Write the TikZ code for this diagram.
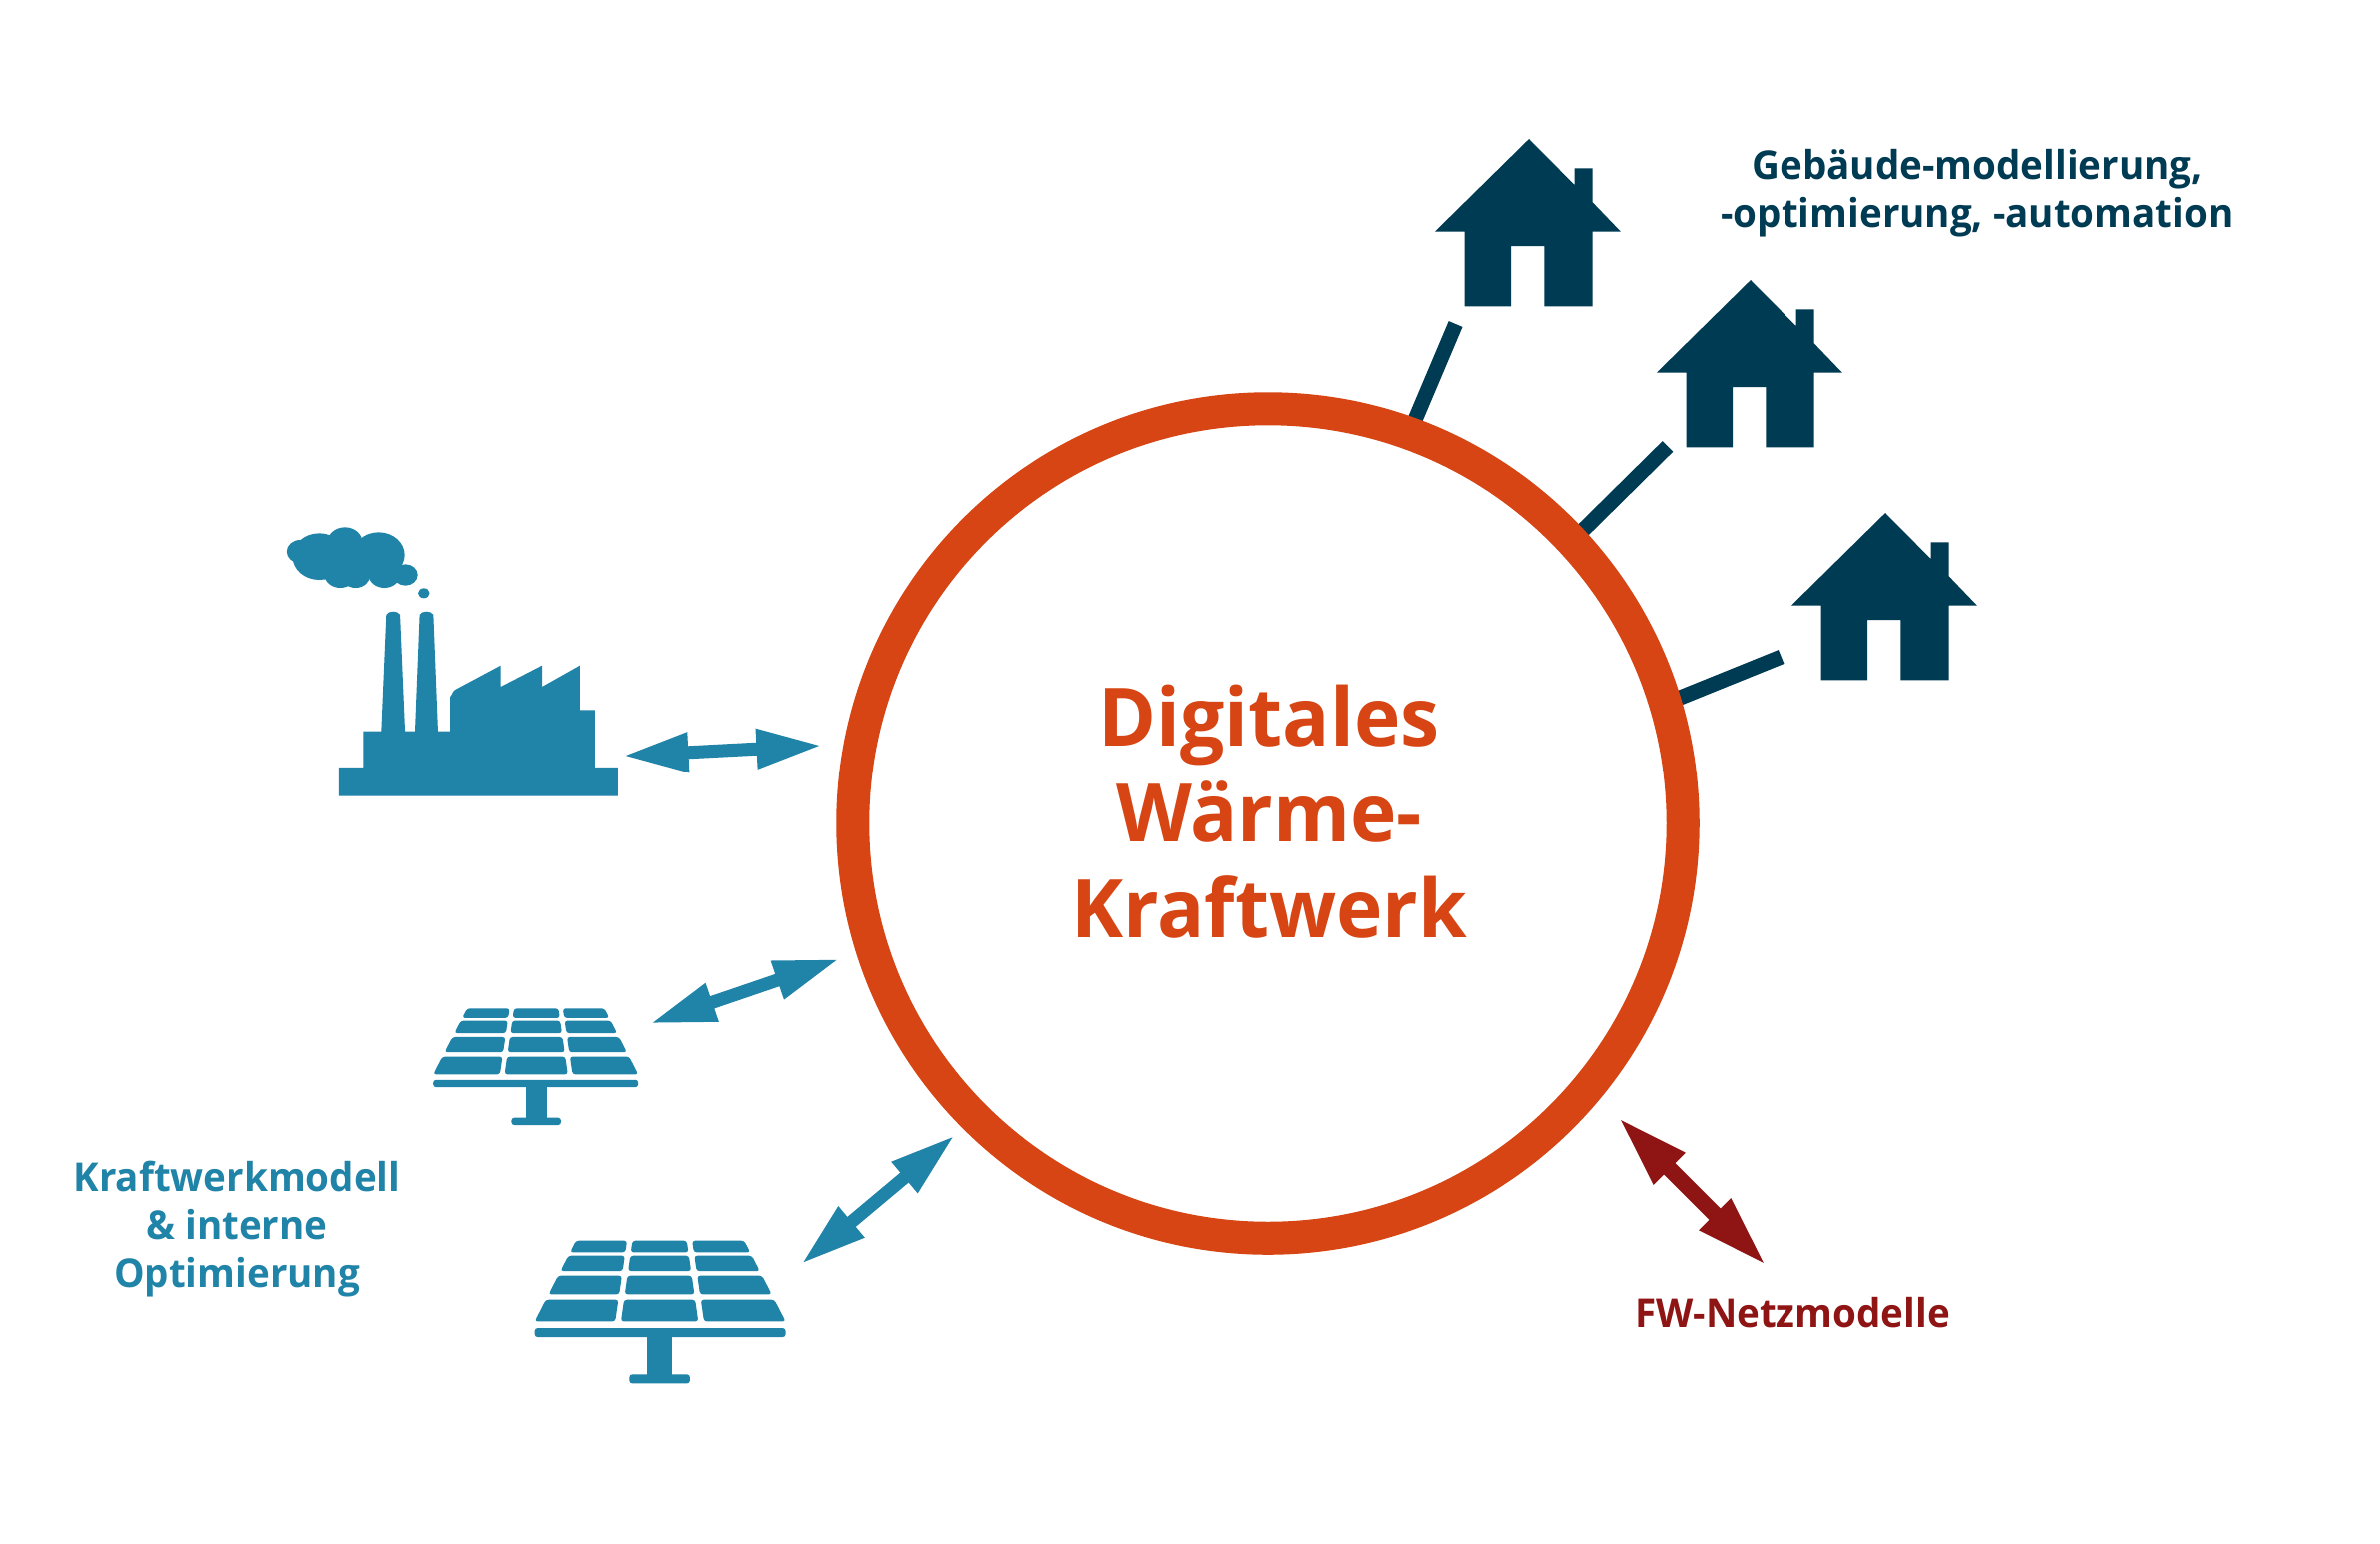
\documentclass[tikz,border=0pt]{standalone}
\usepackage{fontspec}
\setmainfont[FakeStretch=.97]{Open Sans}
\usetikzlibrary{arrows.meta,backgrounds}

\definecolor{ringcol}{HTML}{D64513}
\definecolor{plantcol}{HTML}{2083A8}
\definecolor{housecol}{HTML}{003B54}
\definecolor{gridcol}{HTML}{8F1515}

\tikzset{
    ringnode/.style={circle, draw=ringcol, line width=.33cm, minimum size=8.3cm, inner sep=0pt},
    stub/.style={draw=housecol, line width=.15cm, shorten >=-.1cm},
    twoway/.style={line width=.13cm, shorten <=-.04cm, shorten >=-.04cm,
        {Triangle[length=.66cm,width=.37cm]}-{Triangle[length=.66cm,width=.37cm]}},
    twowaybig/.style={line width=.16cm, shorten <=-.05cm, shorten >=-.05cm,
        {Triangle[length=.74cm,width=.4cm]}-{Triangle[length=.74cm,width=.4cm]}},
    label/.style={align=center, inner sep=0pt},
    smalltext/.style={label, font=\bfseries\fontsize{11.3}{13.6}\selectfont},
    house/.pic={
        \fill[housecol] (0,0) -- (119,120) -- (119,77) -- (166,77) -- (166,165) -- (240,242)
            -- (166,242) -- (166,437) -- (40,437) -- (40,280) -- (-47,280) -- (-47,437)
            -- (-168,437) -- (-168,242) -- (-246,242) -- cycle;
    },
    solarpanel/.pic={
        % Cells of the panel, row by row
        \foreach \ya/\yb in {0/35,45/91,105/161,177/242}{
            \foreach \ca/\cb/\da/\db in {-221/-329/-85/-116,-71/-101/71/101,85/116/221/329}{
                \fill[plantcol, rounded corners=.8pt]
                    ({\ca+(\cb-\ca)/242*\ya},\ya) -- ({\da+(\db-\da)/242*\ya},\ya)
                    -- ({\da+(\db-\da)/242*\yb},\yb) -- ({\ca+(\cb-\ca)/242*\yb},\yb) -- cycle;
            }
        }
        \fill[plantcol, rounded corners=.8pt] (-329,262) rectangle (329,289);
        \fill[plantcol] (-33,285) rectangle (33,405);
        \fill[plantcol, rounded corners=.8pt] (-79,401) rectangle (79,428);
    }
}

\begin{document}
\begin{tikzpicture}[x=.01cm, y=-.01cm]

    \useasboundingbox (0,0) rectangle (2382,1544);

    \node[ringnode] (ring) at (1269,824) {};
    \node[label, font=\bfseries\fontsize{23}{27.2}\selectfont, text=ringcol] (title) at (1270,812)
    {Digitales\\Wärme-\\Kraftwerk};

    % Houses on the upper right
    \pic[scale=.3827] at (1530,139) {house};
    \pic[scale=.3827] at (1752,280) {house};
    \pic[scale=.3827] at (1887,513) {house};

    \coordinate (H1) at (1456.6,324);
    \coordinate (H2) at (1669,446.4);
    \coordinate (H3) at (1782.7,657);

    \begin{pgfonlayer}{background}
        \fill[white] (0,0) rectangle (2382,1544);
        \draw[stub] (H1) -- (ring.70);
        \draw[stub] (H2) -- (ring.43);
        \draw[stub] (H3) -- (ring.17);
    \end{pgfonlayer}

    % Factory, in the coordinates of its own crop
    \begin{scope}[shift={(260,500)}, xscale=.3827, yscale=.3333, plantcol]
        \fill (206,890) -- (206,804) -- (270,804) -- (270,695) -- (317,695) -- (330,345)
            to[out=70,in=110] (366,345) -- (379,695) -- (405,695) -- (417,345)
            to[out=70,in=110] (453,345) -- (465,695) -- (497,695) -- (497,590)
            to[out=-90,in=-150] (510,570) -- (629,497) -- (629,561) -- (737,497) -- (737,561)
            -- (836,497) -- (836,631) -- (875,631) -- (875,804) -- (938,804) -- (938,890) -- cycle;
        \foreach \cx/\cy/\cr in {105/155/35,155/170/70,222/128/46,310/165/68,230/180/60,210/222/42,
            250/226/38,325/222/42,380/225/32,428/280/15}{
            \fill (\cx,\cy) circle ({\cr});
        }
    \end{scope}

    % Solar panels
    \pic[xscale=.313, yscale=.2727] at (536.2,1009.3) {solarpanel};
    \pic[xscale=.3827, yscale=.3333] at (660.6,1241.7) {solarpanel};

    \coordinate (A1) at (627.4,756);
    \coordinate (B1) at (819.5,746);
    \coordinate (A2) at (654.5,1023.3);
    \coordinate (B2) at (837,961);
    \coordinate (A3) at (805,1262.7);
    \coordinate (B3) at (953,1138.7);
    \coordinate (A4) at (1622,1121);
    \coordinate (B4) at (1765,1264);

    \draw[twoway, plantcol] (A1) -- (B1);
    \draw[twoway, plantcol] (A2) -- (B2);
    \draw[twoway, plantcol] (A3) -- (B3);
    \draw[twowaybig, gridcol] (A4) -- (B4);

    \node[smalltext, text=housecol] (bldg) at (1979,193.5)
    {Gebäude-modellierung,\\-optimierung, -automation};
    \node[smalltext, text=plantcol] (plant) at (237,1230)
    {Kraftwerkmodell\\\& interne\hspace*{4pt}\\Optimierung};
    \node[smalltext, text=gridcol] (grid) at (1794,1314)
    {FW-Netzmodelle};

\end{tikzpicture}
\end{document}
